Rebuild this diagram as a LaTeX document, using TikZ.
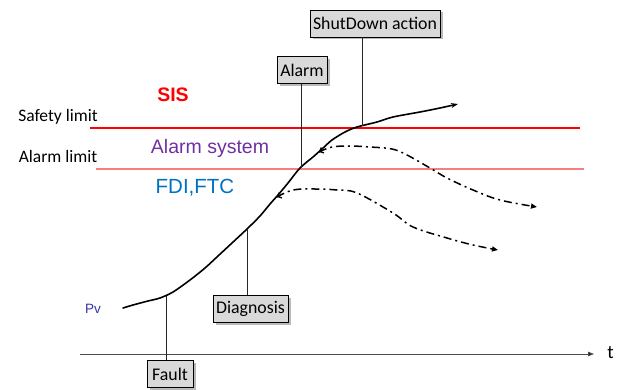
\documentclass[tikz,border=0pt]{standalone}
\usepackage{fontspec}
\setmainfont{Carlito}
\newfontfamily\arialfont{Liberation Sans}
\usetikzlibrary{shadows,arrows.meta}
\definecolor{sisred}{HTML}{FF0000}
\definecolor{alarmpink}{HTML}{F28080}
\definecolor{alarmpurple}{HTML}{7030A0}
\definecolor{fdiblue}{HTML}{0070C0}
\definecolor{pvblue}{HTML}{3333AA}
\definecolor{boxgrey}{HTML}{D9D9D9}
\begin{document}
\begin{tikzpicture}[x=1pt,y=-1pt,
  tagbox/.style={draw=black, line width=0.6pt, fill=boxgrey,
    font=\fontsize{17.8}{18}\selectfont, inner xsep=1.5pt, inner ysep=0pt,
    minimum height=27pt,
    drop shadow={shadow xshift=2.5pt, shadow yshift=-2.5pt, fill=gray!60, opacity=0.9}},
  leader/.style={draw=black!85, line width=0.6pt},
  limitlabel/.style={font=\fontsize{17.5}{18}\selectfont, anchor=center},
  branch/.style={line width=1.5pt, dash pattern=on 8pt off 4pt on 2pt off 4pt,
    -{Triangle[length=6pt,width=5pt]}}
]
\useasboundingbox (0,0) rectangle (620,390);

% time axis
\draw[draw=black!70, line width=1pt, -{Triangle[length=6pt,width=4.5pt,fill=black]}] (80,354) -- (594,354);
\node[font=\fontsize{19}{19}\selectfont] (t) at (610.5,353) {t};

% limits
\draw[sisred, line width=2pt] (90,128) -- (580,128);
\draw[alarmpink, line width=1.5pt] (96,169) -- (584,169);
\node[limitlabel] (safety) at (58,117) {Safety limit};
\node[limitlabel] (alarmlim) at (58,156) {Alarm limit};

% zones
\node[font=\arialfont\bfseries\fontsize{19.5}{20}\selectfont, text=sisred] (sis) at (173,95) {SIS};
\node[font=\arialfont\fontsize{19.5}{20}\selectfont, text=alarmpurple] (alsys) at (210,148) {Alarm system};
\node[font=\arialfont\fontsize{20.5}{21}\selectfont, text=fdiblue] (fdi) at (195,188) {FDI,FTC};
\node[font=\arialfont\fontsize{13.5}{14}\selectfont, text=pvblue] (pv) at (93,309) {Pv};

% process variable trajectory
\draw[line width=1.6pt, line cap=round, -{Stealth[length=7pt,width=5pt]}]
  plot[smooth, tension=0.5] coordinates {
    (123,308) (133,305) (148,301) (160,298) (173,292) (190,280) (205,268)
    (218,256) (232,243) (247,229) (260,216) (270,204) (278,195) (288,183)
    (300,168) (313,157) (322,149) (332,140) (345,132) (357,127) (377,122)
    (393,117) (420,112) (440,108) (458,104)};

% event points on the trajectory
\coordinate (pfault) at (166,296);
\coordinate (pdiag) at (247,229);
\coordinate (palarm) at (301,168);
\coordinate (pshut) at (362,126);
\coordinate (pb1) at (319,152);
\coordinate (pb2) at (277,197);

% alternative trajectories
\draw[branch] plot[smooth, tension=0.6] coordinates {
    (pb1) (332,147) (350,146) (370,147) (392,149) (407,155) (430,168)
    (447,178) (473,190) (500,200) (537,207)};
\draw[line width=1.4pt, -{Straight Barb[length=3pt,width=6pt]}] (321,151) -- (pb1);
\draw[branch] plot[smooth, tension=0.6] coordinates {
    (pb2) (293,190) (315,189) (337,190) (357,193) (393,213) (413,227)
    (447,238) (473,245) (498,250)};
\draw[line width=1.4pt, -{Straight Barb[length=3pt,width=6pt]}] (279,196) -- (pb2);

% event tags
\node[tagbox, minimum width=130pt] (shut) at (375,23.5) {ShutDown action};
\node[tagbox, minimum width=50pt] (alarm) at (302,70) {Alarm};
\node[tagbox, minimum width=75pt] (diag) at (250.5,309) {Diagnosis};
\node[tagbox, minimum width=46pt] (fault) at (170,374) {Fault};

\draw[leader] (shut.south -| pshut) -- (pshut);
\draw[leader] (alarm.south -| palarm) -- (palarm);
\draw[leader] (diag.north -| pdiag) -- (pdiag);
\draw[leader] (fault.north -| pfault) -- (pfault);
\end{tikzpicture}
\end{document}
